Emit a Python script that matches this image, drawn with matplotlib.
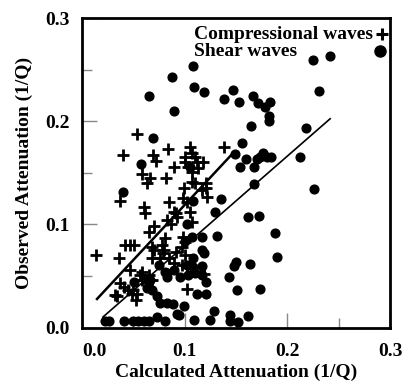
import numpy as np
import matplotlib
matplotlib.use("Agg")
import matplotlib.pyplot as plt

plt.rcParams['font.family'] = ['Liberation Serif', 'DejaVu Serif']
plt.rcParams['font.weight'] = 'bold'

# shear waves (dots): calculated, observed
shear_x = [0.225, 0.242, 0.231, 0.108, 0.088, 0.109, 0.119, 0.065, 0.147, 0.138,
           0.153, 0.167, 0.171, 0.178, 0.183, 0.182, 0.182, 0.165, 0.090, 0.069,
           0.156, 0.149, 0.160, 0.154, 0.170, 0.168, 0.173, 0.176, 0.180, 0.184,
           0.212, 0.218, 0.168, 0.226, 0.135, 0.108, 0.057, 0.040, 0.105, 0.162,
           0.172, 0.188, 0.190, 0.130, 0.117, 0.131, 0.117, 0.119, 0.150, 0.148,
           0.164, 0.117, 0.117, 0.121, 0.143, 0.151, 0.173, 0.112, 0.121, 0.129,
           0.109, 0.125, 0.144, 0.144, 0.152, 0.162, 0.102, 0.107, 0.102, 0.108,
           0.083, 0.090, 0.095, 0.103, 0.110, 0.083, 0.100, 0.108, 0.061, 0.066,
           0.068, 0.073, 0.076, 0.083, 0.089, 0.099, 0.093, 0.051, 0.063,
           0.022, 0.026, 0.041, 0.050, 0.055, 0.060, 0.065, 0.073, 0.081, 0.094,
           0.075, 0.081]
shear_y = [0.259, 0.263, 0.229, 0.254, 0.243, 0.233, 0.228, 0.224, 0.230, 0.222,
           0.219, 0.224, 0.218, 0.214, 0.219, 0.205, 0.200, 0.195, 0.210, 0.184,
           0.179, 0.168, 0.163, 0.156, 0.163, 0.156, 0.165, 0.169, 0.165, 0.165,
           0.165, 0.193, 0.139, 0.134, 0.125, 0.123, 0.159, 0.131, 0.156, 0.107,
           0.108, 0.092, 0.068, 0.112, 0.088, 0.089, 0.075, 0.072, 0.064, 0.060,
           0.062, 0.060, 0.051, 0.044, 0.049, 0.036, 0.037, 0.033, 0.033, 0.016,
           0.007, 0.007, 0.012, 0.006, 0.005, 0.011, 0.100, 0.088, 0.061, 0.059,
           0.053, 0.056, 0.049, 0.051, 0.053, 0.049, 0.084, 0.067, 0.047, 0.046,
           0.036, 0.031, 0.024, 0.024, 0.023, 0.021, 0.013, 0.044, 0.038,
           0.006, 0.006, 0.006, 0.006, 0.006, 0.006, 0.006, 0.010, 0.006, 0.012,
           0.061, 0.054]

# compressional waves (crosses)
comp_x = [0.054, 0.040, 0.069, 0.072, 0.084, 0.105, 0.138, 0.118, 0.090, 0.058,
          0.066, 0.063, 0.082, 0.100, 0.107, 0.110, 0.112, 0.103, 0.107, 0.113,
          0.100, 0.107, 0.110, 0.121, 0.099, 0.122, 0.098, 0.102, 0.085, 0.090,
          0.105, 0.117, 0.037, 0.060, 0.061, 0.070, 0.065, 0.083, 0.042, 0.047,
          0.051, 0.014, 0.036, 0.068, 0.070, 0.078, 0.080, 0.068, 0.076, 0.047,
          0.056, 0.058, 0.068, 0.065, 0.037, 0.041, 0.034, 0.045, 0.049, 0.053,
          0.054, 0.102, 0.092, 0.100, 0.097, 0.092, 0.085, 0.079, 0.119, 0.102,
          0.093, 0.107, 0.087, 0.081, 0.098, 0.100, 0.090, 0.097, 0.032, 0.050,
          0.121, 0.058]
comp_y = [0.188, 0.167, 0.167, 0.161, 0.173, 0.175, 0.175, 0.160, 0.156, 0.149,
          0.145, 0.140, 0.145, 0.165, 0.169, 0.165, 0.160, 0.156, 0.151, 0.155,
          0.160, 0.141, 0.140, 0.140, 0.135, 0.127, 0.126, 0.122, 0.122, 0.112,
          0.112, 0.133, 0.123, 0.117, 0.111, 0.098, 0.093, 0.104, 0.080, 0.080,
          0.080, 0.070, 0.067, 0.078, 0.075, 0.080, 0.075, 0.067, 0.067, 0.056,
          0.051, 0.046, 0.046, 0.051, 0.043, 0.039, 0.031, 0.036, 0.033, 0.027,
          0.033, 0.037, 0.111, 0.083, 0.078, 0.073, 0.067, 0.072, 0.052, 0.059,
          0.107, 0.102, 0.100, 0.087, 0.088, 0.070, 0.063, 0.061, 0.032, 0.036,
          0.135, 0.054]

# fit lines
comp_fit_x = [0.0146, 0.1456]
comp_fit_y = [0.0277, 0.1675]
shear_fit_x = [0.0204, 0.2417]
shear_fit_y = [0.0102, 0.2024]

legend_labels = ['Compressional waves', 'Shear waves']

fig = plt.figure(figsize=(4.05, 3.84), dpi=100)
ax = fig.add_axes([0.2025, 0.147, 0.7605, 0.806])

ax.plot(shear_x, shear_y, 'o', color='black', markersize=6.3, linestyle='none')
ax.plot(comp_x, comp_y, '+', color='black', markersize=8, mew=2, linestyle='none')
ax.plot(comp_fit_x, comp_fit_y, color='black', lw=1.8)
ax.plot(shear_fit_x, shear_fit_y, color='black', lw=1.2)

# legend: text on the left, marker on the right
ax.text(0.365, 0.948, legend_labels[0], transform=ax.transAxes, fontsize=14,
        fontweight='bold', va='center', ha='left')
ax.text(0.365, 0.893, legend_labels[1], transform=ax.transAxes, fontsize=14,
        fontweight='bold', va='center', ha='left')
ax.plot([0.974], [0.95], '+', color='black', markersize=9, mew=2.2,
        transform=ax.transAxes, clip_on=False)
ax.plot([0.966], [0.895], 'o', color='black', markersize=8, transform=ax.transAxes,
        clip_on=False)

ax.set_xlim(0, 0.3)
ax.set_ylim(0, 0.3)
ax.set_xticks([0.0, 0.1, 0.2, 0.3])
ax.set_yticks([0.0, 0.1, 0.2, 0.3])
ax.set_xticks([0.05, 0.15, 0.25], minor=True)
ax.set_yticks([0.05, 0.15, 0.25], minor=True)
ax.set_xticklabels(['0.0', '0.1', '0.2', '0.3'])
ax.set_yticklabels(['0.0', '0.1', '0.2', '0.3'])
ax.get_xticklabels()[0].set_horizontalalignment('left')
ax.tick_params(which='major', direction='in', length=11, width=1, labelsize=14, color='#888888')
ax.tick_params(which='minor', direction='in', length=7, width=1, color='#888888')
ax.tick_params(axis='x', which='both', pad=11)
ax.tick_params(axis='y', which='both', pad=9)
for s in ax.spines.values():
    s.set_linewidth(2)

ax.set_xlabel('Calculated Attenuation (1/Q)', fontsize=14, fontweight='bold', labelpad=3)
ax.set_ylabel('Observed Attenuation (1/Q)', fontsize=14, fontweight='bold', labelpad=9)

fig.savefig('out.png', dpi=100)
